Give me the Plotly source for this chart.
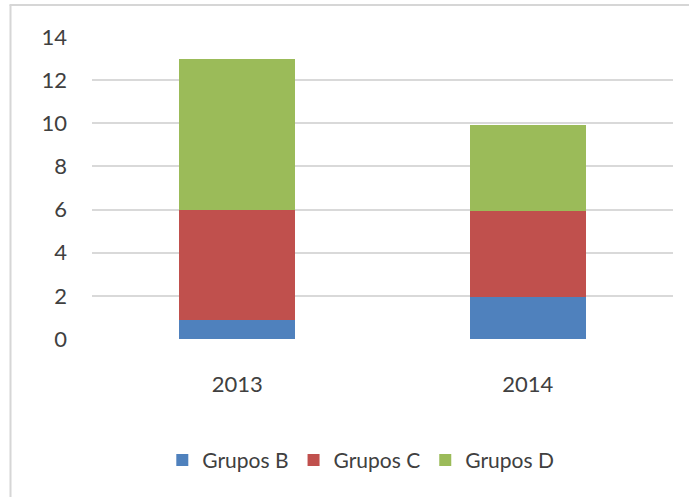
import plotly.graph_objects as go

categories = ["2013", "2014"]
grupos_b = [0.9, 1.95]
grupos_c = [5.1, 4.0]
grupos_d = [7.0, 3.95]
y_ticks = [0, 2, 4, 6, 8, 10, 12, 14]

colors = {"Grupos B": "#4F81BD", "Grupos C": "#C0504D", "Grupos D": "#9BBB59"}

fig = go.Figure()
for name, vals in [("Grupos B", grupos_b), ("Grupos C", grupos_c), ("Grupos D", grupos_d)]:
    fig.add_trace(go.Bar(x=categories, y=vals, name=name,
                         marker=dict(color=colors[name], line=dict(width=0)),
                         width=0.4))

W, H = 689, 497
L, R, T, B = 92, 16, 37, 158
pw, ph = W - L - R, H - T - B


def px_x(x):
    return (x - L) / pw


def px_y(y):
    return (H - B - y) / ph


border = dict(color="#d6d6d6", width=2)
font_family = "Lato, 'Liberation Sans', sans-serif"
fig.update_layout(
    barmode="stack",
    width=W, height=H,
    margin=dict(l=L, r=R, t=T, b=B, autoexpand=False),
    paper_bgcolor="white", plot_bgcolor="white",
    font=dict(family=font_family, size=22, color="#404040"),
    showlegend=True,
    legend=dict(orientation="h", x=0.121, xanchor="left", y=-0.402, yanchor="middle",
                font=dict(size=21, color="#404040"), itemwidth=30,
                traceorder="normal", tracegroupgap=0, itemclick=False),
    xaxis=dict(showgrid=False, showline=False, zeroline=False, ticks="",
               ticklabelstandoff=30, tickfont=dict(size=22)),
    yaxis=dict(range=[0, 14], tickvals=y_ticks, showgrid=True, gridcolor="#d9d9d9",
               gridwidth=2, zeroline=False, showline=False, ticks="",
               ticklabelstandoff=24, tickfont=dict(size=22)),
    shapes=[
        dict(type="line", xref="paper", yref="paper", layer="above",
             x0=px_x(9.5), x1=px_x(700), y0=px_y(5), y1=px_y(5), line=border),
        dict(type="line", xref="paper", yref="paper", layer="above",
             x0=px_x(10.5), x1=px_x(10.5), y0=px_y(5), y1=px_y(510), line=border),
    ],
)

fig.write_html("out.html", config={"displayModeBar": False},
               post_script="document.body.style.margin='0';")
